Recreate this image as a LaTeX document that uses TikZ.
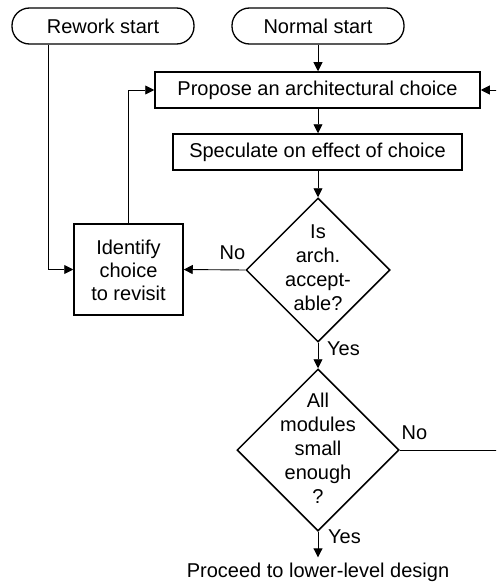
\documentclass[tikz,border=0pt]{standalone}
\usepackage{fontspec}
\setmainfont{Liberation Sans}
\usetikzlibrary{shapes.geometric,arrows.meta}
\begin{document}
\begin{tikzpicture}[x=1pt,y=-1pt,
  txt/.style={inner sep=0pt,font=\fontsize{20}{23.5}\selectfont,align=center},
  box/.style={draw,line width=1.5pt,inner sep=0pt,minimum height=36pt,font=\fontsize{20}{23.5}\selectfont,align=center},
  term/.style={draw,line width=1.3pt,rounded corners=17.5pt,minimum height=36pt,inner sep=0pt,font=\fontsize{20}{24}\selectfont},
  dia/.style={draw,diamond,line width=1.5pt,inner sep=0pt},
  conn/.style={line width=0.9pt,-{Triangle[length=9pt,width=9pt]}},
  plain/.style={line width=0.9pt}
]
\useasboundingbox (0,0) rectangle (496,583);
\clip (0,0) rectangle (496,583);

% terminals
\node[term,minimum width=182pt] (rework) at (103,26) {Rework start};
\node[term,minimum width=172pt] (normal) at (318,26) {Normal start};

% boxes
\node[box,minimum width=325pt] (propose) at (317.5,90) {Propose an architectural choice};
\node[box,minimum width=289pt] (spec) at (317.5,152) {Speculate on effect of choice};
\node[box,minimum width=109pt,minimum height=91pt] (ident) at (128.5,269.5) {};
\node[txt,font=\fontsize{20}{23}\selectfont] (identtxt) at (128.5,270) {Identify\\choice\\to revisit};

% decisions
\node[dia,minimum width=144pt,minimum height=144pt] (d1) at (318,270) {};
\node[txt,font=\fontsize{20}{24}\selectfont] (d1txt) at (318,268) {Is\\arch.\\accept-\\able?};
\node[dia,minimum width=162pt,minimum height=162pt] (d2) at (318,450) {};
\node[txt,font=\fontsize{20}{24}\selectfont] (d2txt) at (318,448) {All\\modules\\small\\enough\\?};

% end text
\node[txt,anchor=base] (proceed) at (318,577) {Proceed to lower-level design};

% labels
\node[txt] (no1) at (232.5,253) {No};
\node[txt,anchor=west] (yes1) at (327,349) {Yes};
\node[txt] (no2) at (414.5,433) {No};
\node[txt,anchor=west] (yes2) at (328,537) {Yes};

% helper coordinates
\coordinate (rwx) at (48,0);
\coordinate (rx) at (500,0);

% connectors
\draw[conn] (normal.south) -- (normal.south |- propose.north);
\draw[conn] (propose.south -| normal.south) -- (spec.north -| normal.south);
\draw[conn] (spec.south -| d1.north) -- (d1.north);
\draw[conn] (d1.west) -- (ident.east);
\draw[conn] (ident.north) |- (propose.west);
\draw[conn] (rework.south -| rwx) |- (ident.west);
\draw[conn] (d1.south) -- (d2.north);
\draw[conn] (d2.east) -| (rx) |- (propose.east);
\draw[conn,shorten >=5pt] (d2.south) -- (proceed.north);
\end{tikzpicture}
\end{document}
